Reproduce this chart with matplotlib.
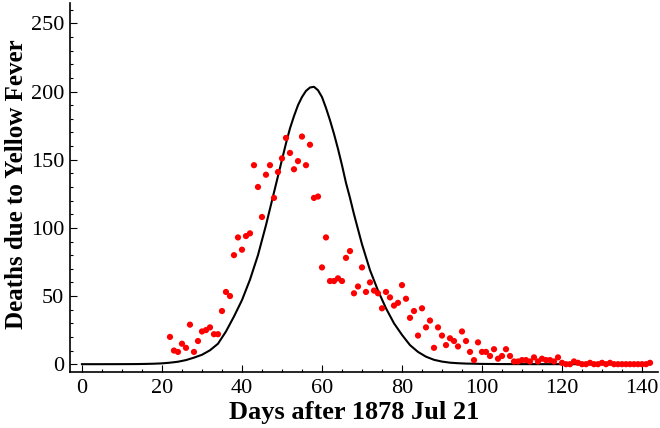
import matplotlib
matplotlib.use("Agg")
import matplotlib.pyplot as plt
from matplotlib.ticker import MultipleLocator

# Observed deaths per day (days after 1878 Jul 21)
obs_days = list(range(22, 143))
obs_deaths = [
    20, 10, 9, 15, 12, 29, 9, 17, 24, 25,       # 22-31
    27, 22, 22, 39, 53, 50, 80, 93, 84, 94,     # 32-41
    96, 146, 130, 108, 139, 146, 122, 141, 151, 166,  # 42-51
    155, 143, 149, 167, 146, 161, 122, 123, 71, 93,   # 52-61
    61, 61, 63, 61, 78, 83, 52, 57, 71, 53,     # 62-71
    60, 54, 52, 41, 53, 49, 43, 45, 58, 48,     # 72-81
    34, 39, 21, 41, 27, 32, 12, 27, 21, 14,     # 82-91
    19, 17, 13, 24, 17, 9, 3, 16, 9, 9,         # 92-101
    6, 11, 4, 6, 11, 6, 2, 2, 3, 3,             # 102-111
    2, 5, 2, 4, 3, 3, 2, 5, 1, 0,               # 112-121
    0, 2, 1, 0, 0, 1, 0, 0, 1, 0,               # 122-131
    1, 0, 0, 0, 0, 0, 0, 0, 0, 0,               # 132-141
    1,                                          # 142
]

# Model curve
model_days = [0, 4, 8, 10, 12, 14, 16, 18, 20, 22, 24, 26, 28, 30, 32, 34, 36, 38,
              40, 42, 44, 45, 46, 47, 48, 49, 50, 51, 52, 53, 54, 55, 56, 57, 58,
              59, 60, 61, 62, 63, 64, 65, 66, 67, 68, 70, 72, 74, 76, 78, 80, 82,
              84, 86, 88, 90, 92, 94, 96, 100, 105, 110, 120, 130, 142]
model_deaths = [0, 0, 0.02, 0.04, 0.06, 0.1, 0.2, 0.35, 0.6, 1.1, 1.8, 3.0, 4.8, 6.9, 10.2, 15, 24, 35,
                47, 62, 80, 91, 102, 114, 126, 138, 150, 162, 173, 182, 190, 196, 200.5, 203, 203.5,
                201, 196, 188, 179, 169, 158, 146, 133, 122, 110, 88, 69, 54, 41, 30, 21.5, 14,
                9, 5.5, 3.2, 1.9, 1.1, 0.7, 0.45, 0.2, 0.08, 0.04, 0.01, 0, 0]

xticks = [0, 20, 40, 60, 80, 100, 120, 140]
yticks = [0, 50, 100, 150, 200, 250]

plt.rcParams['font.family'] = ['Liberation Serif', 'DejaVu Serif']

fig = plt.figure(figsize=(6.6, 4.28), dpi=100)
ax = fig.add_axes([0.106, 0.130, 0.891, 0.863])

ax.plot(model_days, model_deaths, color='black', lw=1.5, solid_joinstyle='round', zorder=2)
ax.scatter(obs_days, obs_deaths, s=20, color='#ff0000', edgecolors='none', zorder=3)

ax.set_xlim(-3, 144)
ax.set_ylim(-6, 265)
ax.set_xticks(xticks)
ax.set_yticks(yticks)
ax.xaxis.set_minor_locator(MultipleLocator(5))
ax.yaxis.set_minor_locator(MultipleLocator(10))
ax.tick_params(which='both', direction='in', labelsize=16, width=0.8)
ax.tick_params(which='major', length=5)
ax.tick_params(which='minor', length=2.5)
ax.tick_params(axis='x', pad=5)
ax.tick_params(axis='y', pad=4)

for s in ['top', 'right']:
    ax.spines[s].set_visible(False)
for s in ['left', 'bottom']:
    ax.spines[s].set_linewidth(1.2)

ax.set_xlabel('Days after 1878 Jul 21', fontsize=19, fontweight='bold')
ax.set_ylabel('Deaths due to Yellow Fever', fontsize=18, fontweight='bold')
ax.xaxis.set_label_coords(0.483, -0.078)
ax.yaxis.set_label_coords(-0.072, 0.51)

fig.savefig('out.png', dpi=100)
